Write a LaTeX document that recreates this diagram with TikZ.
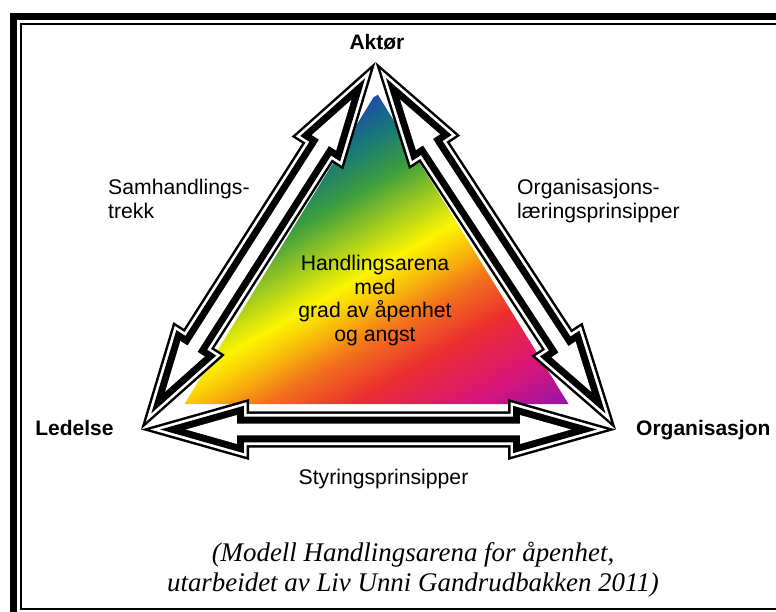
\documentclass[tikz,border=0pt]{standalone}
\usepackage{fontspec}
\setmainfont{Liberation Sans}
\newfontfamily\captionserif{Liberation Serif}
\usetikzlibrary{calc}

% colours of the arena gradient
\definecolor{arBlue}{RGB}{30,78,170}
\definecolor{arTeal}{RGB}{24,120,120}
\definecolor{arGreen}{RGB}{60,158,62}
\definecolor{arYGreen}{RGB}{165,205,30}
\definecolor{arYellow}{RGB}{252,245,0}
\definecolor{arYOrange}{RGB}{248,185,10}
\definecolor{arOrange}{RGB}{242,115,28}
\definecolor{arRed}{RGB}{234,46,48}
\definecolor{arMagenta}{RGB}{218,22,118}
\definecolor{arPurple}{RGB}{150,20,170}

\pgfdeclarehorizontalshading{arena}{100bp}{%
  color(0bp)=(arBlue); color(25bp)=(arBlue); color(29.7bp)=(arTeal);
  color(35.2bp)=(arGreen); color(40.7bp)=(arYGreen); color(45.5bp)=(arYellow);
  color(49.6bp)=(arYOrange); color(53.7bp)=(arOrange); color(59.9bp)=(arRed);
  color(67.4bp)=(arMagenta); color(75bp)=(arPurple); color(100bp)=(arPurple)}

% block double arrow: inner outline of the thick stroke
\def\tipin{44.9pt}
\def\headback{95.8pt}
\def\headw{14.4pt}
\def\shaftw{5.85pt}
\newcommand\blockarrow[2]{%
  \path[arrowbody]
    ($(#1)!\tipin!(#2)$)
    -- ($(#1)!\headback!(#2)!\headw!90:(#2)$)
    -- ($(#1)!\headback!(#2)!\shaftw!90:(#2)$)
    -- ($(#2)!\headback!(#1)!\shaftw!-90:(#1)$)
    -- ($(#2)!\headback!(#1)!\headw!-90:(#1)$)
    -- ($(#2)!\tipin!(#1)$)
    -- ($(#2)!\headback!(#1)!\headw!90:(#1)$)
    -- ($(#2)!\headback!(#1)!\shaftw!90:(#1)$)
    -- ($(#1)!\headback!(#2)!\shaftw!-90:(#2)$)
    -- ($(#1)!\headback!(#2)!\headw!-90:(#2)$)
    -- cycle;}

\begin{document}
\begin{tikzpicture}[x=1pt,y=-1pt,
  txt/.style={font=\fontsize{21.2}{23.5}\selectfont, inner sep=0pt},
  corner/.style={font=\fontsize{21}{24}\selectfont\bfseries, inner sep=0pt},
  captiontxt/.style={font=\captionserif\itshape\fontsize{26.9}{29.5}\selectfont,
    inner sep=0pt, align=center},
  arrowbody/.style={fill=white, line join=miter, miter limit=20,
    preaction={draw=black, line width=24.4pt, line join=miter, miter limit=20},
    preaction={draw=white, line width=19.4pt, line join=miter, miter limit=20},
    preaction={draw=black, line width=14pt, line join=miter, miter limit=20}},
  frameouter/.style={draw=black, line width=7pt},
  frameinner/.style={draw=black, line width=2pt}]

\useasboundingbox (0,0) rectangle (776,612);
\clip (0,0) rectangle (776,612);
\fill[white] (0,0) rectangle (776,612);

% double frame
\draw[frameouter] (13.5,16.5) rectangle (800,640);
\draw[frameinner] (21,24) rectangle (790,608.5);

% arena triangle with rainbow gradient
\coordinate (apex) at (376.5,92.5);
\coordinate (baseL) at (184.5,404);
\coordinate (baseR) at (568.5,404);
\begin{scope}
  \clip (apex) -- (baseL) -- (baseR) -- cycle;
  \begin{scope}[transform canvas={rotate=-60}]
    \shade[shading=arena] (271,-400) rectangle (635,100);
  \end{scope}
\end{scope}

% arrow tips at the three corners
\coordinate (aktorTip) at (375.5,62);
\coordinate (ledTip) at (141,429.5);
\coordinate (orgTip) at (616,429.5);

\blockarrow{aktorTip}{ledTip}
\blockarrow{aktorTip}{orgTip}
\blockarrow{ledTip}{orgTip}

% labels
\node[corner, anchor=base] (aktor) at (377,50) {Aktør};
\node[corner, anchor=base] (ledelse) at (74.5,435) {Ledelse};
\node[corner, anchor=base west] (org) at (636,435) {Organisasjon};

\node[txt, align=left, anchor=west] (samh) at (108,199) {Samhandlings-\\trekk};
\node[txt, align=left, anchor=west] (orgl) at (517,201) {Organisasjons-\\læringsprinsipper};
\node[txt, align=center] (arena) at (375,300.5) {Handlingsarena\\med\\grad av åpenhet\\og angst};
\node[txt] (styring) at (383.5,479) {Styringsprinsipper};

\node[captiontxt] (caption) at (413,569.5) {(Modell Handlingsarena for åpenhet,\\utarbeidet av Liv Unni Gandrudbakken 2011)};
\end{tikzpicture}
\end{document}
